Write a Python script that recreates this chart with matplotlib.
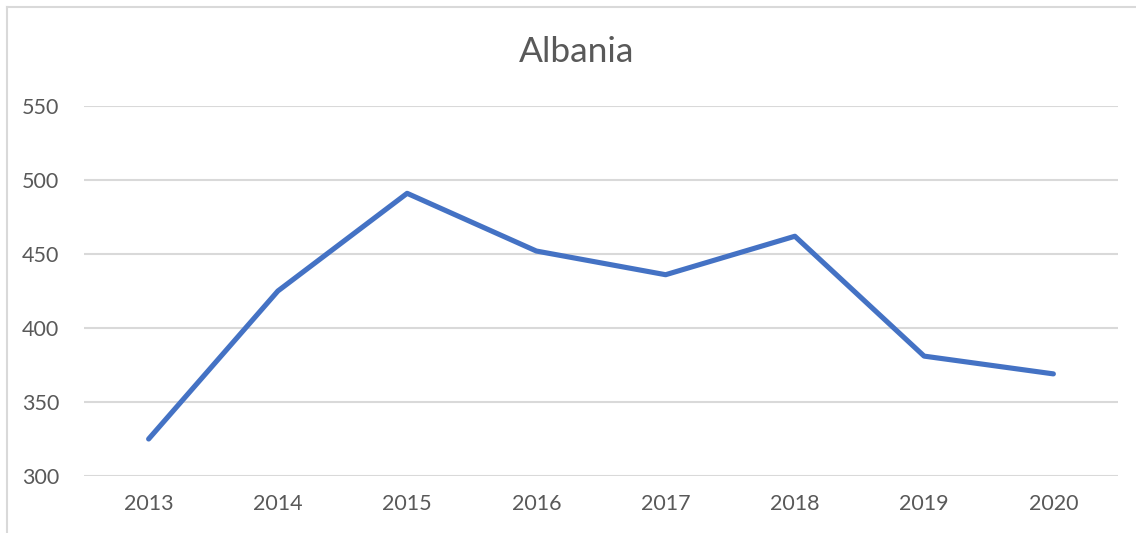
import matplotlib
matplotlib.use("Agg")
import matplotlib.pyplot as plt
from matplotlib.lines import Line2D

# data
years = ["2013", "2014", "2015", "2016", "2017", "2018", "2019", "2020"]
values = [325, 425, 491, 452, 436, 462, 381, 369]
yticks = [300, 350, 400, 450, 500, 550]

plt.rcParams['font.family'] = ['Lato', 'DejaVu Sans']
text_col = "#595959"
grid_col = "#D9D9D9"

fig = plt.figure(figsize=(11.36, 5.33), dpi=100)
ax = fig.add_axes([84 / 1136, 1 - 476 / 533, (1118 - 84) / 1136, (476 - 106) / 533])

x = list(range(len(years)))
ax.plot(x, values, color="#4472C4", linewidth=3.7, solid_capstyle="round", solid_joinstyle="round", zorder=3)

ax.set_xlim(-0.5, len(years) - 0.5)
ax.set_ylim(300, 550)
ax.set_yticks(yticks)
ax.set_xticks(x)
ax.set_xticklabels(years)
for v in yticks:
    ax.axhline(v, color=grid_col, linewidth=1.5, zorder=1)

for s in ax.spines.values():
    s.set_visible(False)
ax.tick_params(length=0, labelsize=15.5, colors=text_col)
ax.tick_params(axis="y", pad=18)
ax.tick_params(axis="x", pad=13)

fig.text(577 / 1136, 1 - 52 / 533, "Albania", ha="center", va="center", fontsize=25.5, color=text_col)

# chart border (only top and left visible in the crop)
fig.add_artist(Line2D([7 / 1136, 7 / 1136], [0, 1 - 7 / 533], color=grid_col, linewidth=1.5))
fig.add_artist(Line2D([7 / 1136, 1], [1 - 7 / 533, 1 - 7 / 533], color=grid_col, linewidth=1.5))

fig.savefig("out.png", dpi=100)
